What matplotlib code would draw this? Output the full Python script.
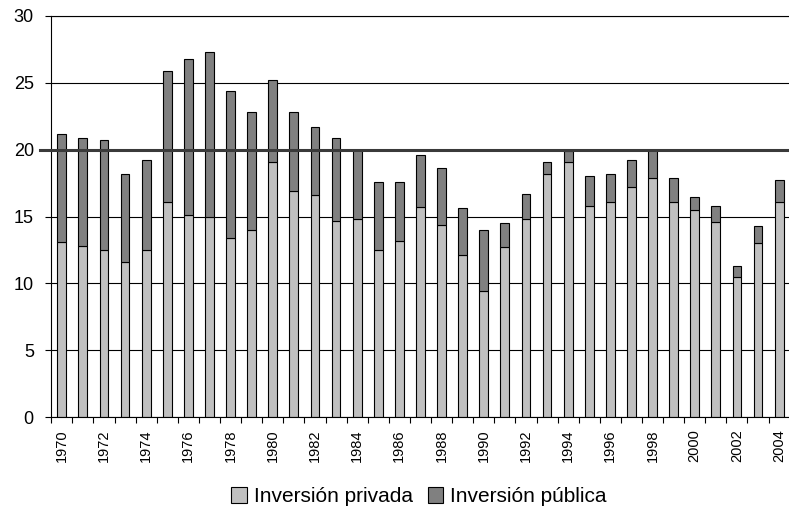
import matplotlib

matplotlib.use("Agg")
import matplotlib.pyplot as plt
import matplotlib.transforms as mtransforms
import numpy as np
from matplotlib.font_manager import findfont, FontProperties

YEARS = list(range(1970, 2005))
PRIVADA = [13.1, 12.8, 12.5, 11.6, 12.5, 16.1, 15.1, 15.0, 13.4, 14.0,
           19.1, 16.9, 16.6, 14.7, 14.8, 12.5, 13.2, 15.7, 14.4, 12.1,
           9.4, 12.7, 14.8, 18.2, 19.1, 15.8, 16.1, 17.2, 17.9, 16.1,
           15.45, 14.6, 10.5, 13.0, 16.1]
PUBLICA = [8.1, 8.1, 8.2, 6.6, 6.7, 9.8, 11.7, 12.3, 11.0, 8.8,
           6.1, 5.9, 5.1, 6.2, 5.2, 5.1, 4.4, 3.9, 4.2, 3.5,
           4.6, 1.8, 1.9, 0.9, 0.8, 2.2, 2.1, 2.0, 2.1, 1.8,
           1.0, 1.2, 0.8, 1.3, 1.6]
SERIES_LABELS = ["Inversión privada", "Inversión pública"]
Y_TICKS = [0, 5, 10, 15, 20, 25, 30]

COLOR_PRIV = "#c0c0c0"
COLOR_PUB = "#808080"

plt.rcParams["font.family"] = ["Liberation Sans", "DejaVu Sans"]

# narrow font for the rotated year labels, if there is one
narrow = "Liberation Sans Narrow"
if "Narrow" not in findfont(FontProperties(family=narrow), fallback_to_default=True):
    narrow = "Liberation Sans"


def main() -> None:
    fig = plt.figure(figsize=(7.89, 5.17), dpi=100, facecolor="white")
    ax = fig.add_axes([51.2 / 789, 100 / 517, 738.5 / 789, 401 / 517])

    x = np.arange(len(YEARS))
    ax.bar(x, PRIVADA, width=0.42, color=COLOR_PRIV, edgecolor="black",
           linewidth=0.8, label=SERIES_LABELS[0], zorder=2)
    ax.bar(x, PUBLICA, width=0.42, bottom=PRIVADA, color=COLOR_PUB,
           edgecolor="black", linewidth=0.8, label=SERIES_LABELS[1], zorder=2)

    ax.set_xlim(-0.5, len(YEARS) - 0.5)
    ax.set_ylim(0, 30)

    # y axis
    ax.set_yticks(Y_TICKS)
    ax.tick_params(axis="y", direction="out", length=4.5, width=0.8,
                   labelsize=13, pad=8, colors="black")
    ax.yaxis.grid(True, color="black", linewidth=0.8)
    ax.set_axisbelow(True)

    # x axis: ticks between categories, labels every 2 years
    ax.set_xticks(x[::2])
    ax.set_xticklabels([str(y) for y in YEARS[::2]], rotation=90,
                       fontsize=10.5, family=narrow)
    ax.set_xticks(np.arange(-0.5, len(YEARS)), minor=True)
    ax.tick_params(axis="x", which="major", length=0, pad=9)
    ax.tick_params(axis="x", which="minor", direction="out", length=4.5, width=0.8)

    ax.spines["right"].set_visible(False)
    for side in ("left", "bottom", "top"):
        ax.spines[side].set_linewidth(0.8)
        ax.spines[side].set_color("black")

    # heavier reference line at 20
    trans = mtransforms.blended_transform_factory(ax.transAxes, ax.transData)
    ax.plot([-0.015, 1.0], [20, 20], transform=trans, color="#3a3a3a",
            linewidth=2.2, clip_on=False, zorder=3)

    handles, labels = ax.get_legend_handles_labels()
    fig.legend(handles, labels, loc="center", bbox_to_anchor=(0.531, 0.039),
               ncol=2, frameon=False, fontsize=15, handlelength=0.75,
               handleheight=0.75, handletextpad=0.35, columnspacing=0.7)

    fig.savefig("out.png", dpi=100, facecolor="white")
    plt.close(fig)


if __name__ == "__main__":
    main()
